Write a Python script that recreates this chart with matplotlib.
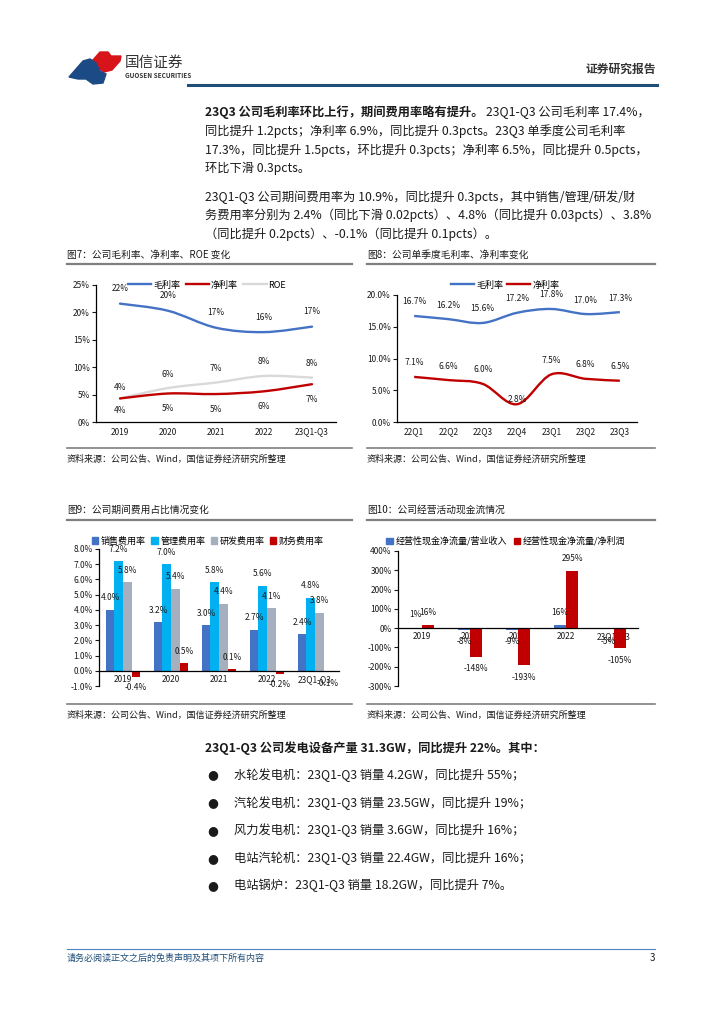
import numpy as np
import matplotlib
matplotlib.use('Agg')
import matplotlib.pyplot as plt
from matplotlib.path import Path
from matplotlib.patches import PathPatch, Polygon, Patch
from matplotlib.lines import Line2D

plt.rcParams['font.family'] = ['Noto Sans CJK SC', 'DejaVu Sans']
plt.rcParams['axes.unicode_minus'] = False

W, H = 724, 1024

# ---- data ----
years = ['2019', '2020', '2021', '2022', '23Q1-Q3']
gross_y = [21.6, 20.3, 17.2, 16.4, 17.4]
net_y = [4.3, 5.2, 5.1, 5.6, 6.9]
roe_y = [4.3, 6.2, 7.2, 8.4, 8.1]

quarters = ['22Q1', '22Q2', '22Q3', '22Q4', '23Q1', '23Q2', '23Q3']
gross_q = [16.7, 16.2, 15.6, 17.2, 17.8, 17.0, 17.3]
net_q = [7.1, 6.6, 6.0, 2.8, 7.5, 6.8, 6.5]

sales_fee = [4.0, 3.2, 3.0, 2.7, 2.4]
admin_fee = [7.2, 7.0, 5.8, 5.6, 4.8]
rd_fee = [5.8, 5.4, 4.4, 4.1, 3.8]
fin_fee = [-0.4, 0.5, 0.1, -0.2, -0.1]

cf_rev = [1, -8, -9, 16, -5]
cf_np = [16, -148, -193, 295, -105]

BLUE = '#4472C4'
RED = '#C00000'
LGRAY = '#D9D9D9'
CYAN = '#00B0F0'
BGRAY = '#A5AFBD'
TXT = '#1a1a1a'


def fx(x):
    return x / W


def fy(y):
    return 1 - y / H


def axes_px(fig, x0, y0, x1, y1):
    return fig.add_axes([fx(x0), fy(y1), (x1 - x0) / W, (y1 - y0) / H])


def smooth_path(x, y):
    # bezier through the points, like the smoothed lines of the source chart
    verts = [(x[0], y[0])]
    codes = [Path.MOVETO]
    n = len(x)
    for i in range(n - 1):
        xa, ya = (x[i - 1], y[i - 1]) if i > 0 else (x[i], y[i])
        xb, yb = (x[i + 2], y[i + 2]) if i + 2 < n else (x[i + 1], y[i + 1])
        c1 = (x[i] + (x[i + 1] - xa) / 6, y[i] + (y[i + 1] - ya) / 6)
        c2 = (x[i + 1] - (xb - x[i]) / 6, y[i + 1] - (yb - y[i]) / 6)
        verts += [c1, c2, (x[i + 1], y[i + 1])]
        codes += [Path.CURVE4] * 3
    return Path(verts, codes)


def style_axes(ax):
    for s in ['top', 'right']:
        ax.spines[s].set_visible(False)
    for s in ['left', 'bottom']:
        ax.spines[s].set_color('black')
        ax.spines[s].set_linewidth(0.9)
    ax.tick_params(axis='y', length=3, width=0.8, pad=1.5, labelsize=6, colors=TXT)
    ax.tick_params(axis='x', length=0, pad=4, labelsize=6, colors=TXT)
    ax.patch.set_alpha(0)


def frame(fig, x0, x1, ytitle, yline_t, yline_s, title):
    fig.text(fx(x0), fy(ytitle), title, fontsize=7, color=TXT, va='center', ha='left')
    fig.add_artist(Line2D([fx(x0), fx(x1)], [fy(yline_t), fy(yline_t)], color='#7F7F7F', lw=1.6))
    fig.add_artist(Line2D([fx(x0), fx(x1)], [fy(yline_s), fy(yline_s)], color='#7F7F7F', lw=1.2))
    fig.text(fx(x0), fy(yline_s + 11), '资料来源：公司公告、Wind，国信证券经济研究所整理',
             fontsize=6.5, color=TXT, va='center', ha='left')


fig = plt.figure(figsize=(W / 100, H / 100), dpi=100)

# ---- header ----
red_logo = [(92, 61), (100, 52), (108, 52), (111, 56), (121, 56), (120, 61), (112, 70), (104, 72), (97, 67)]
blue_logo = [(69, 77), (83, 61), (90, 59), (96, 63), (100, 71), (106, 74), (103, 83), (93, 84), (86, 79), (78, 79)]
fig.add_artist(Polygon([(fx(a), fy(b)) for a, b in red_logo], closed=True, color='#D7141A', transform=fig.transFigure))
fig.add_artist(Polygon([(fx(a), fy(b)) for a, b in blue_logo], closed=True, color='#1B4A84', transform=fig.transFigure))
fig.text(fx(125), fy(63), '国信证券', fontsize=10.5, color='#333333', va='center', ha='left')
fig.text(fx(125), fy(76), 'GUOSEN SECURITIES', fontsize=4.6, color='#333333', va='center', ha='left', weight='bold')
fig.text(fx(656), fy(69), '证券研究报告', fontsize=8.5, color='#333333', va='center', ha='right', weight='bold')
fig.add_artist(Line2D([fx(188), fx(657)], [fy(85), fy(85)], color='#1F4E79', lw=2.2))

# ---- paragraphs ----
FS = 8.8
renderer = fig.canvas.get_renderer()
t_bold = fig.text(fx(205), fy(112), '23Q3 公司毛利率环比上行，期间费用率略有提升。', fontsize=FS,
                  weight='bold', color=TXT, va='center', ha='left')
bb = t_bold.get_window_extent(renderer)
fig.text(bb.x1 / W + 0.004, fy(112), '23Q1-Q3 公司毛利率 17.4%，', fontsize=FS, color=TXT, va='center', ha='left')
para = [
    (131, '同比提升 1.2pcts；净利率 6.9%，同比提升 0.3pcts。23Q3 单季度公司毛利率'),
    (150, '17.3%，同比提升 1.5pcts，环比提升 0.3pcts；净利率 6.5%，同比提升 0.5pcts，'),
    (168, '环比下滑 0.3pcts。'),
    (197, '23Q1-Q3 公司期间费用率为 10.9%，同比提升 0.3pcts，其中销售/管理/研发/财'),
    (215, '务费用率分别为 2.4%（同比下滑 0.02pcts）、4.8%（同比提升 0.03pcts）、3.8%'),
    (234, '（同比提升 0.2pcts）、-0.1%（同比提升 0.1pcts）。'),
]
for yy, s in para:
    fig.text(fx(205), fy(yy), s, fontsize=FS, color=TXT, va='center', ha='left')

# ---- chart 7 ----
frame(fig, 67, 352, 255, 264, 448, '图7：公司毛利率、净利率、ROE 变化')
ax = axes_px(fig, 96, 285, 336, 422)
style_axes(ax)
xs = np.arange(len(years))
for vals, c in [(gross_y, BLUE), (roe_y, LGRAY), (net_y, RED)]:
    ax.add_patch(PathPatch(smooth_path(xs, vals), facecolor='none', edgecolor=c, lw=1.7, capstyle='round'))
for i, v in enumerate(gross_y):
    ax.annotate(f'{v:.0f}%', (i, v), xytext=(0, 15), textcoords='offset pixels', ha='center', va='center', fontsize=6, color=TXT)
for i, v in enumerate(roe_y):
    ax.annotate(f'{v:.0f}%', (i, v), xytext=(0, 14 if i else 11), textcoords='offset pixels', ha='center', va='center', fontsize=6, color=TXT)
for i, v in enumerate(net_y):
    ax.annotate(f'{v:.0f}%', (i, v), xytext=(0, -15 if i else -12), textcoords='offset pixels', ha='center', va='center', fontsize=6, color=TXT)
ax.set_xlim(-0.5, len(years) - 0.5)
ax.set_ylim(0, 25)
ax.set_yticks([0, 5, 10, 15, 20, 25])
ax.set_yticklabels([f'{t}%' for t in [0, 5, 10, 15, 20, 25]])
ax.set_xticks(xs)
ax.set_xticklabels(years)
hs = [Line2D([], [], color=BLUE, lw=1.7), Line2D([], [], color=RED, lw=1.7), Line2D([], [], color=LGRAY, lw=1.7)]
ax.legend(hs, ['毛利率', '净利率', 'ROE'], loc='center', bbox_to_anchor=(fx(207), fy(285)), bbox_transform=fig.transFigure,
          ncol=3, frameon=False, fontsize=6.5, handlelength=2.6, handletextpad=0.2, columnspacing=0.6)

# ---- chart 8 ----
frame(fig, 367, 655, 255, 264, 448, '图8：公司单季度毛利率、净利率变化')
ax = axes_px(fig, 397, 295, 637, 422)
style_axes(ax)
xq = np.arange(len(quarters))
ax.add_patch(PathPatch(smooth_path(xq, gross_q), facecolor='none', edgecolor=BLUE, lw=1.7))
ax.add_patch(PathPatch(smooth_path(xq, net_q), facecolor='none', edgecolor=RED, lw=1.7))
for i, v in enumerate(gross_q):
    ax.annotate(f'{v:.1f}%', (i, v), xytext=(0, 14), textcoords='offset pixels', ha='center', va='center', fontsize=6, color=TXT)
for i, v in enumerate(net_q):
    ax.annotate(f'{v:.1f}%', (i, v), xytext=(0, 5 if i == 3 else 14), textcoords='offset pixels', ha='center', va='center', fontsize=6, color=TXT)
ax.set_xlim(-0.5, len(quarters) - 0.5)
ax.set_ylim(0, 20)
ax.set_yticks([0, 5, 10, 15, 20])
ax.set_yticklabels([f'{t:.1f}%' for t in [0, 5, 10, 15, 20]])
ax.set_xticks(xq)
ax.set_xticklabels(quarters)
hs = [Line2D([], [], color=BLUE, lw=1.7), Line2D([], [], color=RED, lw=1.7)]
ax.legend(hs, ['毛利率', '净利率'], loc='center', bbox_to_anchor=(fx(505), fy(285)), bbox_transform=fig.transFigure,
          ncol=2, frameon=False, fontsize=6.5, handlelength=2.6, handletextpad=0.2, columnspacing=0.4)

# ---- chart 9 ----
frame(fig, 67, 352, 510, 520, 704, '图9：公司期间费用占比情况变化')
ax = axes_px(fig, 99, 549, 339, 686)
style_axes(ax)
ax.spines['bottom'].set_position(('data', 0))
ax.tick_params(axis='x', pad=3)
bw = 0.18
series9 = [(sales_fee, BLUE), (admin_fee, CYAN), (rd_fee, BGRAY), (fin_fee, RED)]
for k, (vals, c) in enumerate(series9):
    pos = xs + (k - 1.5) * bw
    ax.bar(pos, vals, width=bw, color=c, zorder=2)
    for p, v in zip(pos, vals):
        off = 12 if v >= 0 else -11
        ax.annotate(f'{v:.1f}%', (p, v), xytext=(0, off), textcoords='offset pixels', ha='center', va='center', fontsize=6, color=TXT, zorder=4)
ax.set_xlim(-0.5, len(years) - 0.5)
ax.set_ylim(-1, 8)
ticks9 = list(range(-1, 9))
ax.set_yticks(ticks9)
ax.set_yticklabels([f'{t:.1f}%' for t in ticks9])
ax.set_xticks(xs)
ax.set_xticklabels(years)
hs = [Patch(color=c) for _, c in series9]
ax.legend(hs, ['销售费用率', '管理费用率', '研发费用率', '财务费用率'], loc='center', bbox_to_anchor=(fx(208), fy(541)),
          bbox_transform=fig.transFigure, ncol=4, frameon=False, fontsize=6.5, handlelength=0.7, handleheight=0.7,
          handletextpad=0.3, columnspacing=0.6)

# ---- chart 10 ----
frame(fig, 367, 655, 510, 520, 704, '图10：公司经营活动现金流情况')
ax = axes_px(fig, 398, 551, 638, 686)
style_axes(ax)
ax.spines['bottom'].set_position(('data', 0))
ax.tick_params(axis='x', pad=3)
bw = 0.26
for k, (vals, c) in enumerate([(cf_rev, BLUE), (cf_np, RED)]):
    pos = xs + (k - 0.5) * bw
    ax.bar(pos, vals, width=bw, color=c, zorder=2)
    for p, v in zip(pos, vals):
        off = 13 if v >= 0 else -12
        ax.annotate(f'{v:.0f}%', (p, v), xytext=(0, off), textcoords='offset pixels', ha='center', va='center', fontsize=6, color=TXT, zorder=4)
ax.set_xlim(-0.5, len(years) - 0.5)
ax.set_ylim(-300, 400)
ticks10 = list(range(-300, 401, 100))
ax.set_yticks(ticks10)
ax.set_yticklabels([f'{t}%' for t in ticks10])
ax.set_xticks(xs)
ax.set_xticklabels(years)
hs = [Patch(color=BLUE), Patch(color=RED)]
ax.legend(hs, ['经营性现金净流量/营业收入', '经营性现金净流量/净利润'], loc='center', bbox_to_anchor=(fx(506), fy(541)),
          bbox_transform=fig.transFigure, ncol=2, frameon=False, fontsize=6.5, handlelength=0.7, handleheight=0.7,
          handletextpad=0.3, columnspacing=0.8)

# ---- bullet list ----
fig.text(fx(205), fy(748), '23Q1-Q3 公司发电设备产量 31.3GW，同比提升 22%。其中：', fontsize=FS, weight='bold',
         color=TXT, va='center', ha='left')
bullets = [
    '水轮发电机：23Q1-Q3 销量 4.2GW，同比提升 55%；',
    '汽轮发电机：23Q1-Q3 销量 23.5GW，同比提升 19%；',
    '风力发电机：23Q1-Q3 销量 3.6GW，同比提升 16%；',
    '电站汽轮机：23Q1-Q3 销量 22.4GW，同比提升 16%；',
    '电站锅炉：23Q1-Q3 销量 18.2GW，同比提升 7%。',
]
for i, s in enumerate(bullets):
    yy = 775 + i * 27.7
    fig.text(fx(213), fy(yy), '●', fontsize=9, color=TXT, va='center', ha='center', family=['DejaVu Sans'])
    fig.text(fx(234), fy(yy), s, fontsize=FS, color=TXT, va='center', ha='left')

# ---- footer ----
fig.add_artist(Line2D([fx(67), fx(655)], [fy(949), fy(949)], color='#4F81BD', lw=0.8))
fig.text(fx(67), fy(958), '请务必阅读正文之后的免责声明及其项下所有内容', fontsize=6.5, color='#1F4E79',
         style='italic', va='center', ha='left')
fig.text(fx(655), fy(958), '3', fontsize=7, color=TXT, va='center', ha='right')

fig.savefig('out.png', dpi=100)
